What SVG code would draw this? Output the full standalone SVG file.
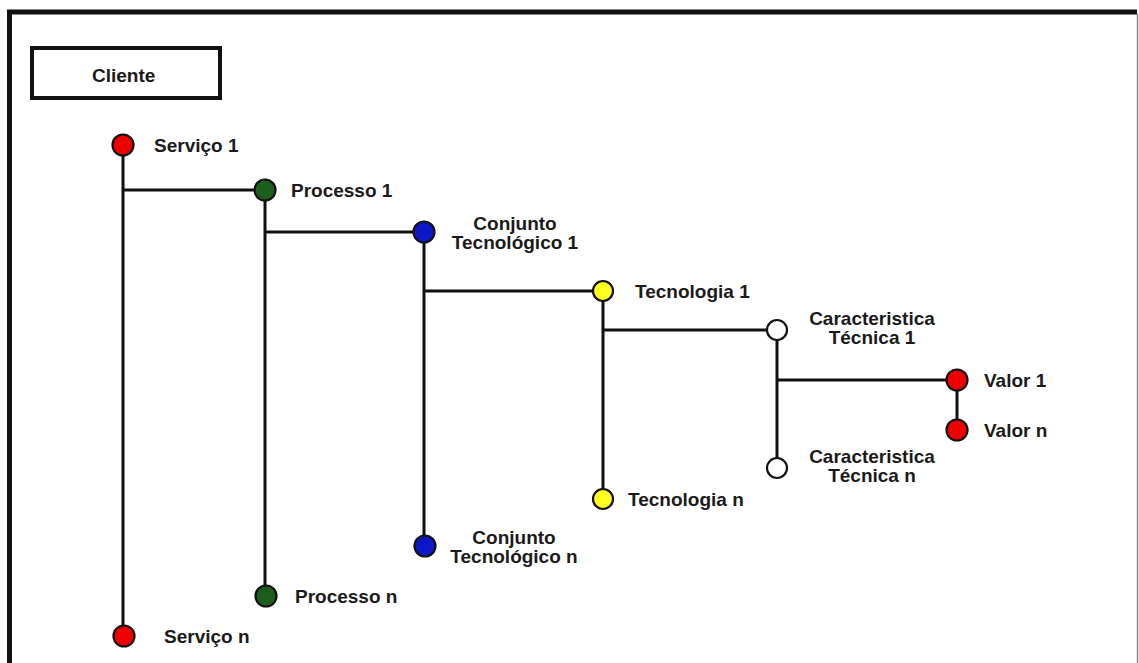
<svg xmlns="http://www.w3.org/2000/svg" width="1139" height="663" viewBox="0 0 1139 663">
  <style>
    .lbl { font-family: "Liberation Sans", Arial, sans-serif; font-weight: bold; font-size: 19px; fill: #1a1a1a; }
    .mid { text-anchor: middle; }
    .wire { stroke: #111; stroke-width: 3; fill: none; stroke-linecap: butt; }
    .dot { stroke: #111; stroke-width: 2.2; }
    .red { fill: #ee0000; }
    .green { fill: #1c5e1c; }
    .blue { fill: #0c18c8; }
    .yellow { fill: #ffff22; }
    .white { fill: #ffffff; }
  </style>

  <!-- background and frame -->
  <rect x="0" y="0" width="1139" height="663" fill="#ffffff"/>
  <path d="M9.5 663 V12 H1137" fill="none" stroke="#111" stroke-width="5"/>
  <line x1="1137.5" y1="14" x2="1137.5" y2="663" stroke="#888" stroke-width="1.5"/>

  <!-- title box -->
  <g id="cliente">
    <rect x="32" y="48" width="188" height="50" fill="#ffffff" stroke="#111" stroke-width="4"/>
    <text class="lbl" x="92" y="82">Cliente</text>
  </g>

  <!-- connectors -->
  <g id="connectors">
    <line class="wire" x1="123" y1="145" x2="123" y2="636"/>
    <line class="wire" x1="123" y1="190" x2="265" y2="190"/>
    <line class="wire" x1="265" y1="190" x2="265" y2="596"/>
    <line class="wire" x1="265" y1="232" x2="424" y2="232"/>
    <line class="wire" x1="424" y1="232" x2="424" y2="546"/>
    <line class="wire" x1="424" y1="291" x2="603" y2="291"/>
    <line class="wire" x1="603" y1="291" x2="603" y2="499"/>
    <line class="wire" x1="603" y1="330" x2="777" y2="330"/>
    <line class="wire" x1="777" y1="330" x2="777" y2="468"/>
    <line class="wire" x1="777" y1="380" x2="957" y2="380"/>
    <line class="wire" x1="957" y1="380" x2="957" y2="430"/>
  </g>

  <!-- services -->
  <g id="servico-1">
    <circle class="dot red" cx="123" cy="145" r="10.5"/>
    <text class="lbl" x="154" y="152">Serviço 1</text>
  </g>
  <g id="servico-n">
    <circle class="dot red" cx="124" cy="636" r="10.5"/>
    <text class="lbl" x="164" y="643">Serviço n</text>
  </g>

  <!-- processes -->
  <g id="processo-1">
    <circle class="dot green" cx="265" cy="190" r="10.5"/>
    <text class="lbl" x="291" y="197">Processo 1</text>
  </g>
  <g id="processo-n">
    <circle class="dot green" cx="266" cy="596" r="10.5"/>
    <text class="lbl" x="295" y="603">Processo n</text>
  </g>

  <!-- technology sets -->
  <g id="conjunto-1">
    <circle class="dot blue" cx="424" cy="232" r="10.5"/>
    <text class="lbl mid" x="515" y="230">Conjunto</text>
    <text class="lbl mid" x="515" y="249">Tecnológico 1</text>
  </g>
  <g id="conjunto-n">
    <circle class="dot blue" cx="425" cy="546" r="10.5"/>
    <text class="lbl mid" x="514" y="544">Conjunto</text>
    <text class="lbl mid" x="514" y="563">Tecnológico n</text>
  </g>

  <!-- technologies -->
  <g id="tecnologia-1">
    <circle class="dot yellow" cx="603" cy="291" r="10"/>
    <text class="lbl" x="635" y="298">Tecnologia 1</text>
  </g>
  <g id="tecnologia-n">
    <circle class="dot yellow" cx="603" cy="499" r="10"/>
    <text class="lbl" x="628" y="506">Tecnologia n</text>
  </g>

  <!-- technical characteristics -->
  <g id="caracteristica-1">
    <circle class="dot white" cx="777" cy="330" r="10"/>
    <text class="lbl mid" x="872" y="325">Caracteristica</text>
    <text class="lbl mid" x="872" y="344">Técnica 1</text>
  </g>
  <g id="caracteristica-n">
    <circle class="dot white" cx="777" cy="468" r="10"/>
    <text class="lbl mid" x="872" y="463">Caracteristica</text>
    <text class="lbl mid" x="872" y="482">Técnica n</text>
  </g>

  <!-- values -->
  <g id="valor-1">
    <circle class="dot red" cx="957" cy="380" r="10.5"/>
    <text class="lbl" x="984" y="387">Valor 1</text>
  </g>
  <g id="valor-n">
    <circle class="dot red" cx="957" cy="430" r="10.5"/>
    <text class="lbl" x="984" y="437">Valor n</text>
  </g>
</svg>
